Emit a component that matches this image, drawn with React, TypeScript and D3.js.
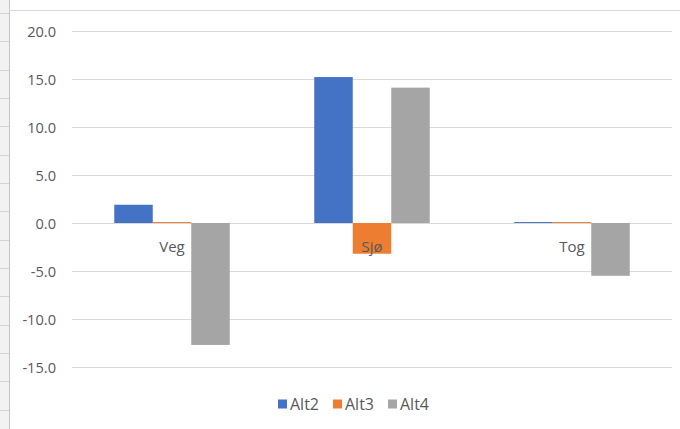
import React from "react";
import * as d3 from "d3";

// Chart values
const categories = ["Veg", "Sjø", "Tog"];
const seriesNames = ["Alt2", "Alt3", "Alt4"];
const alt2 = [1.9, 15.2, 0.1];
const alt3 = [0.1, -3.2, 0.1];
const alt4 = [-12.7, 14.1, -5.5];
const yTicks = [-15, -10, -5, 0, 5, 10, 15, 20];
const colors = ["#4472C4", "#ED7D31", "#A5A5A5"];

const W = 680;
const H = 429;
const FONT = "'Open Sans', 'Liberation Sans', sans-serif";
const TEXT = "#595959";
const GRID = "#d9d9d9";

export default function App() {
  const series = [alt2, alt3, alt4];

  const x = d3
    .scaleBand<string>()
    .domain(categories)
    .range([72, 672])
    .paddingInner(0.4225)
    .paddingOuter(0.21125);
  const xs = d3
    .scaleBand<string>()
    .domain(seriesNames)
    .range([0, x.bandwidth()])
    .padding(0);
  const y = d3.scaleLinear().domain([-15, 20]).range([367, 31]);

  // spreadsheet row lines on the left margin
  const rowLines = d3.range(13, H, 28.33);

  return (
    <svg
      width={W}
      height={H}
      style={{ position: "absolute", left: 0, top: 0, display: "block" }}
    >
      <rect x={0} y={0} width={W} height={H} fill="#ffffff" />
      <rect x={0} y={0} width={9} height={H} fill="#f2f2f2" />
      {rowLines.map((ry, i) => (
        <line key={i} x1={0} x2={9} y1={Math.round(ry) + 0.5} y2={Math.round(ry) + 0.5} stroke="#d4d4d4" />
      ))}
      <line x1={9.5} x2={9.5} y1={0} y2={H} stroke="#c6c6c6" />
      <line x1={9} x2={W} y1={10.5} y2={10.5} stroke="#d9d9d9" />

      {/* gridlines */}
      {yTicks.map((t) => (
        <line
          key={t}
          x1={72}
          x2={672}
          y1={Math.round(y(t)) + 0.5}
          y2={Math.round(y(t)) + 0.5}
          stroke={GRID}
          strokeWidth={1}
        />
      ))}

      {/* y tick labels */}
      {yTicks.map((t) => (
        <text
          key={"l" + t}
          x={56}
          y={y(t)}
          textAnchor="end"
          dominantBaseline="central"
          fontFamily={FONT}
          fontSize={14.6}
          fill={TEXT}
        >
          {t.toFixed(1)}
        </text>
      ))}

      {/* bars */}
      {categories.map((c, ci) =>
        seriesNames.map((s, si) => {
          const v = series[si][ci];
          const x0 = (x(c) as number) + (xs(s) as number);
          const y0 = Math.min(y(v), y(0));
          const h = Math.abs(y(v) - y(0));
          return (
            <rect
              key={c + s}
              x={x0}
              y={y0}
              width={xs.bandwidth()}
              height={h}
              fill={colors[si]}
            />
          );
        })
      )}

      {/* category labels */}
      {categories.map((c) => (
        <text
          key={"c" + c}
          x={(x(c) as number) + x.bandwidth() / 2}
          y={246}
          textAnchor="middle"
          dominantBaseline="central"
          fontFamily={FONT}
          fontSize={15}
          fill={TEXT}
        >
          {c}
        </text>
      ))}

      {/* legend */}
      {seriesNames.map((s, i) => {
        const lx = 278 + i * 55;
        return (
          <g key={"lg" + s}>
            <rect x={lx} y={399.5} width={9} height={9} fill={colors[i]} />
            <text
              x={lx + 12}
              y={404}
              dominantBaseline="central"
              fontFamily={FONT}
              fontSize={16}
              fill={TEXT}
            >
              {s}
            </text>
          </g>
        );
      })}
    </svg>
  );
}
